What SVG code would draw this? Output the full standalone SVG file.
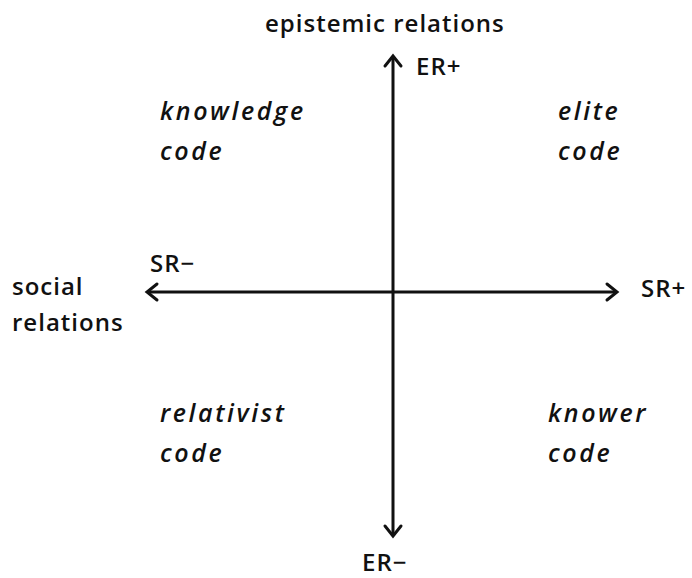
<svg xmlns="http://www.w3.org/2000/svg" width="692" height="578" viewBox="0 0 692 578">
  <style>
    text { font-family: "Open Sans", "Noto Sans", sans-serif; font-size: 24px; font-weight: 600; fill: #111; letter-spacing: 1px; }
    .code { font-style: italic; font-size: 25px; letter-spacing: 2.6px; }
    .axis { stroke: #111; stroke-width: 3; fill: none; }
    .head { stroke: #111; stroke-width: 3; fill: none; stroke-linecap: round; stroke-linejoin: miter; }
  </style>
  <rect width="692" height="578" fill="#fff"/>

  <g id="connectors">
    <g id="vertical-axis">
      <line class="axis" x1="393" y1="57" x2="393" y2="535"/>
      <polyline class="head" points="385,66 393,56 401,66"/>
      <polyline class="head" points="385,526 393,536 401,526"/>
    </g>
    <g id="horizontal-axis">
      <line class="axis" x1="148" y1="292" x2="616" y2="292"/>
      <polyline class="head" points="157,284 147,292 157,300"/>
      <polyline class="head" points="607,284 617,292 607,300"/>
    </g>
  </g>

  <g id="epistemic-relations">
    <text x="265" y="32">epistemic relations</text>
  </g>
  <g id="er-plus"><text x="416" y="75">ER+</text></g>
  <g id="er-minus"><text x="362" y="571">ER−</text></g>
  <g id="sr-minus"><text x="150" y="272">SR−</text></g>
  <g id="sr-plus"><text x="641" y="297">SR+</text></g>
  <g id="social-relations">
    <text x="12" y="295">social</text>
    <text x="12" y="331">relations</text>
  </g>

  <g id="knowledge-code">
    <text class="code" x="160" y="120">knowledge</text>
    <text class="code" x="160" y="160">code</text>
  </g>
  <g id="elite-code">
    <text class="code" x="558" y="120">elite</text>
    <text class="code" x="558" y="160">code</text>
  </g>
  <g id="relativist-code">
    <text class="code" x="160" y="422">relativist</text>
    <text class="code" x="160" y="462">code</text>
  </g>
  <g id="knower-code">
    <text class="code" x="548" y="422">knower</text>
    <text class="code" x="548" y="462">code</text>
  </g>
</svg>
